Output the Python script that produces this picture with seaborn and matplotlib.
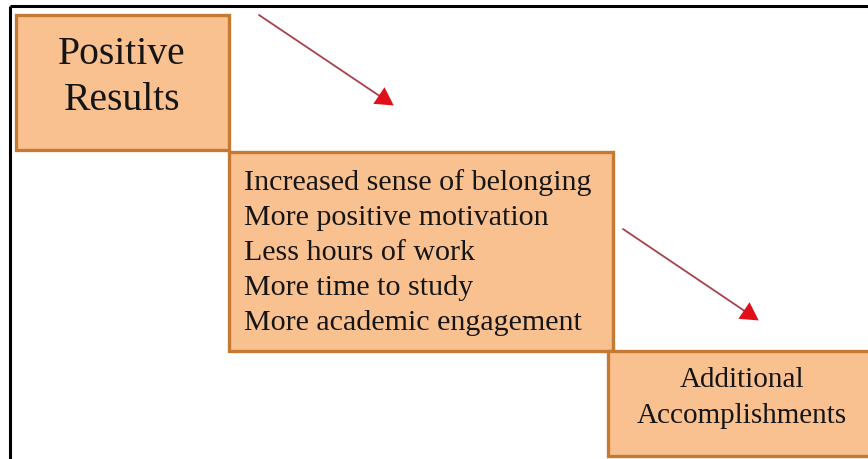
import matplotlib
matplotlib.use("Agg")
import matplotlib.pyplot as plt
import seaborn as sns
from matplotlib.patches import Rectangle, FancyArrowPatch

sns.set_theme(style="white")
plt.rcParams['font.family'] = ['Liberation Serif', 'DejaVu Serif']

# Content
title_lines = ["Positive", "Results"]
result_items = [
    "Increased sense of belonging",
    "More positive motivation",
    "Less hours of work",
    "More time to study",
    "More academic engagement",
]
outcome_lines = ["Additional", "Accomplishments"]

FILL = "#F9C18F"
EDGE = "#C47A33"

fig = plt.figure(figsize=(8.68, 4.60), dpi=100)
ax = fig.add_axes([0, 0, 1, 1])
ax.set_xlim(0, 868)
ax.set_ylim(460, 0)
ax.axis("off")

# outer frame (top and left)
ax.plot([10, 868], [6.5, 6.5], color="black", lw=2.2, solid_capstyle="butt")
ax.plot([10, 10], [6.5, 460], color="black", lw=2.2, solid_capstyle="butt")

# boxes (x, y, w, h)
boxes = [(16, 16, 213, 135), (229, 153, 384, 199), (608, 352, 275, 105)]
for (x, y, w, h) in boxes:
    ax.add_patch(Rectangle((x, y), w, h, facecolor=FILL, edgecolor=EDGE, lw=2.4, zorder=2))

txt_color = "#151515"
# Box 1 title
for i, line in enumerate(title_lines):
    ax.text(122, 64 + i * 46, line, ha="center", va="baseline", fontsize=28.5,
            color=txt_color, zorder=3)

# Box 2 items
for i, item in enumerate(result_items):
    ax.text(244, 190 + i * 35, item, ha="left", va="baseline", fontsize=21.6,
            color=txt_color, zorder=3)

# Box 3
for i, line in enumerate(outcome_lines):
    ax.text(742, 387 + i * 36, line, ha="center", va="baseline", fontsize=21,
            color=txt_color, zorder=3)

# arrows
arrows = [((259, 16), (396, 108)), ((623, 230), (761, 323))]
for (s, e) in arrows:
    ax.plot([s[0], e[0] - (e[0]-s[0]) * 0.08], [s[1], e[1] - (e[1]-s[1]) * 0.08],
            color="#A8414D", lw=1.3, zorder=3)
    ax.add_patch(FancyArrowPatch(
        (e[0] - (e[0]-s[0]) * 0.1, e[1] - (e[1]-s[1]) * 0.1), e,
        arrowstyle="-|>,head_length=8,head_width=4.5", mutation_scale=1.6,
        color="#E0101A", lw=0, zorder=4))

fig.savefig("out.png", dpi=100)
